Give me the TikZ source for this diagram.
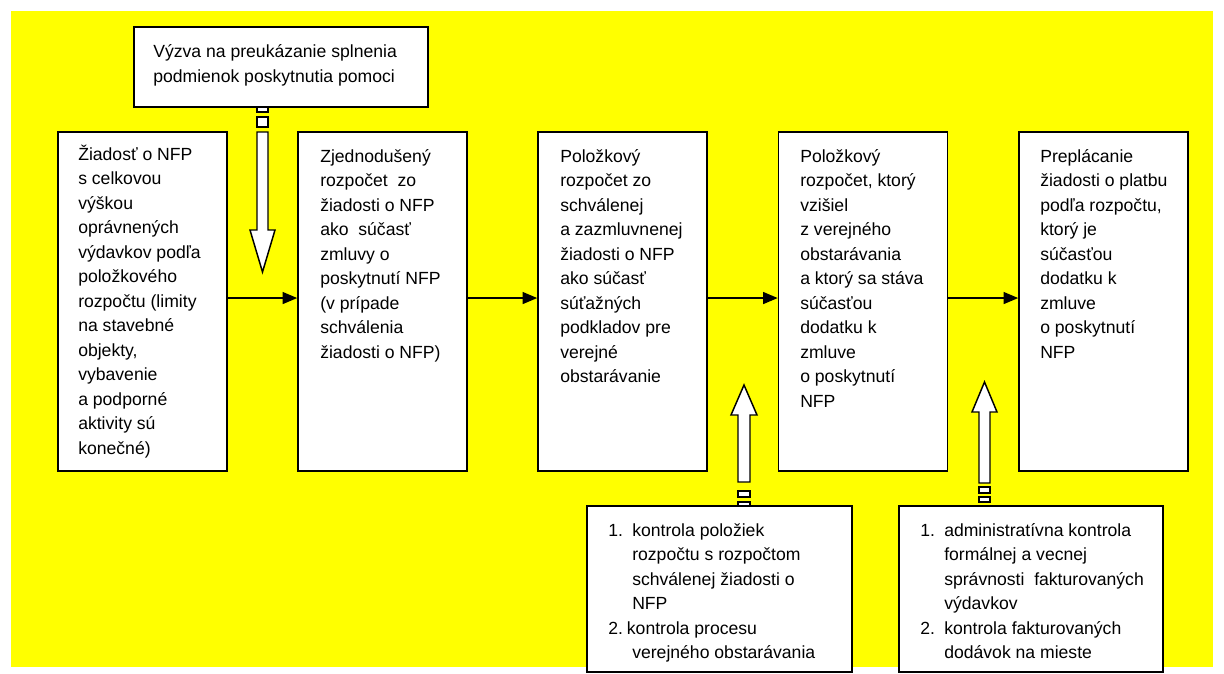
\documentclass[tikz,border=0pt]{standalone}
\usepackage{fontspec}
\setmainfont{Liberation Sans}
\usetikzlibrary{arrows.meta}
\definecolor{bgyellow}{RGB}{255,255,0}
\newcommand{\bxt}[1]{\parbox[t]{260pt}{\fontsize{13.2pt}{18.4pt}\selectfont\raggedright #1}}
\newcommand{\itm}[1]{\makebox[18pt][l]{#1}}
\begin{document}
\begin{tikzpicture}[x=0.75pt,y=-0.75pt,
  box/.style={draw=black, fill=white, line width=1.2pt, inner sep=0pt},
  txt/.style={anchor=base west, inner sep=0pt},
  harrow/.style={line width=1.1pt, -{Triangle[length=11pt,width=9pt]}},
  blockarrow/.style={draw=black, fill=white, line width=1.1pt, line join=miter},
  sq/.style={draw=black, fill=white, line width=1.1pt}]
\useasboundingbox (0,0) rectangle (1224,674);
\fill[white] (0,0) rectangle (1224,674);
\fill[bgyellow] (11,11) rectangle (1213,667);

% small squares of the down arrow (behind the top box)
\draw[sq] (257,106) rectangle (268,112);
\draw[sq] (257,117) rectangle (268,127);

% top box
\node[box, minimum width=220.5pt, minimum height=60pt] (top) at (281,67) {};
\node[txt] (toptxt) at (153,58) {\bxt{Výzva na preukázanie splnenia\\ podmienok poskytnutia pomoci}};

% main boxes
\node[box, minimum width=126.75pt, minimum height=254.25pt] (b1) at (142.5,301.5) {};
\node[box, minimum width=126.75pt, minimum height=254.25pt] (b2) at (382.5,301.5) {};
\node[box, minimum width=126.75pt, minimum height=254.25pt] (b3) at (622.5,301.5) {};
\node[box, minimum width=126.75pt, minimum height=254.25pt] (b4) at (863,301.5) {};
\node[box, minimum width=126.75pt, minimum height=254.25pt] (b5) at (1103.5,301.5) {};

\node[txt] (t1) at (78,160) {\bxt{Žiadosť o NFP\\ s celkovou\\ výškou\\ oprávnených\\ výdavkov podľa\\ položkového\\ rozpočtu (limity\\ na stavebné\\ objekty,\\ vybavenie\\ a podporné\\ aktivity sú\\ konečné)}};
\node[txt] (t2) at (320,162) {\bxt{Zjednodušený\\ rozpočet\ \ zo\\ žiadosti o NFP\\ ako\ \ súčasť\\ zmluvy o\\ poskytnutí NFP\\ (v prípade\\ schválenia\\ žiadosti o NFP)}};
\node[txt] (t3) at (560,162) {\bxt{Položkový\\ rozpočet zo\\ schválenej\\ a zazmluvnenej\\ žiadosti o NFP\\ ako súčasť\\ súťažných\\ podkladov pre\\ verejné\\ obstarávanie}};
\node[txt] (t4) at (800,162) {\bxt{Položkový\\ rozpočet, ktorý\\ vzišiel\\ z verejného\\ obstarávania\\ a ktorý sa stáva\\ súčasťou\\ dodatku k\\ zmluve\\ o poskytnutí\\ NFP}};
\node[txt] (t5) at (1040,162) {\bxt{Preplácanie\\ žiadosti o platbu\\ podľa rozpočtu,\\ ktorý je\\ súčasťou\\ dodatku k\\ zmluve\\ o poskytnutí\\ NFP}};

% horizontal arrows
\draw[harrow] ([yshift=2.6pt]b1.east) -- ([yshift=2.6pt]b2.west);
\draw[harrow] ([yshift=2.6pt]b2.east) -- ([yshift=2.6pt]b3.west);
\draw[harrow] ([yshift=2.6pt]b3.east) -- ([yshift=2.6pt]b4.west);
\draw[harrow] ([yshift=2.6pt]b4.east) -- ([yshift=2.6pt]b5.west);

% down block arrow
\draw[blockarrow] (257,132) -- (268,132) -- (268,230) -- (275,230) -- (262.5,272) -- (250,230) -- (257,230) -- cycle;

% up block arrows
\draw[blockarrow] (738,482) -- (750,482) -- (750,415) -- (757,415) -- (744,385) -- (731,415) -- (738,415) -- cycle;
\draw[sq] (738,491) rectangle (750,497);
\draw[sq] (738,502) rectangle (750,507);
\draw[blockarrow] (979,483) -- (990,483) -- (990,412) -- (997,412) -- (984.5,382) -- (972,412) -- (979,412) -- cycle;
\draw[sq] (979,487) rectangle (990,493);
\draw[sq] (979,497) rectangle (990,502);

% bottom boxes
\node[box, minimum width=198.75pt, minimum height=124.5pt] (ba) at (719.5,589) {};
\node[box, minimum width=198pt, minimum height=124.5pt] (bb) at (1031,589) {};
\node[txt] (ta) at (608,536) {\bxt{\itm{1.}kontrola položiek\\ \itm{}rozpočtu s rozpočtom\\ \itm{}schválenej žiadosti o\\ \itm{}NFP\\ \makebox[14pt][l]{2.}kontrola procesu\\ \itm{}verejného obstarávania}};
\node[txt] (tb) at (920,536) {\bxt{\itm{1.}administratívna kontrola\\ \itm{}formálnej a vecnej\\ \itm{}správnosti\ \ fakturovaných\\ \itm{}výdavkov\\ \itm{2.}kontrola fakturovaných\\ \itm{}dodávok na mieste}};
\end{tikzpicture}
\end{document}
